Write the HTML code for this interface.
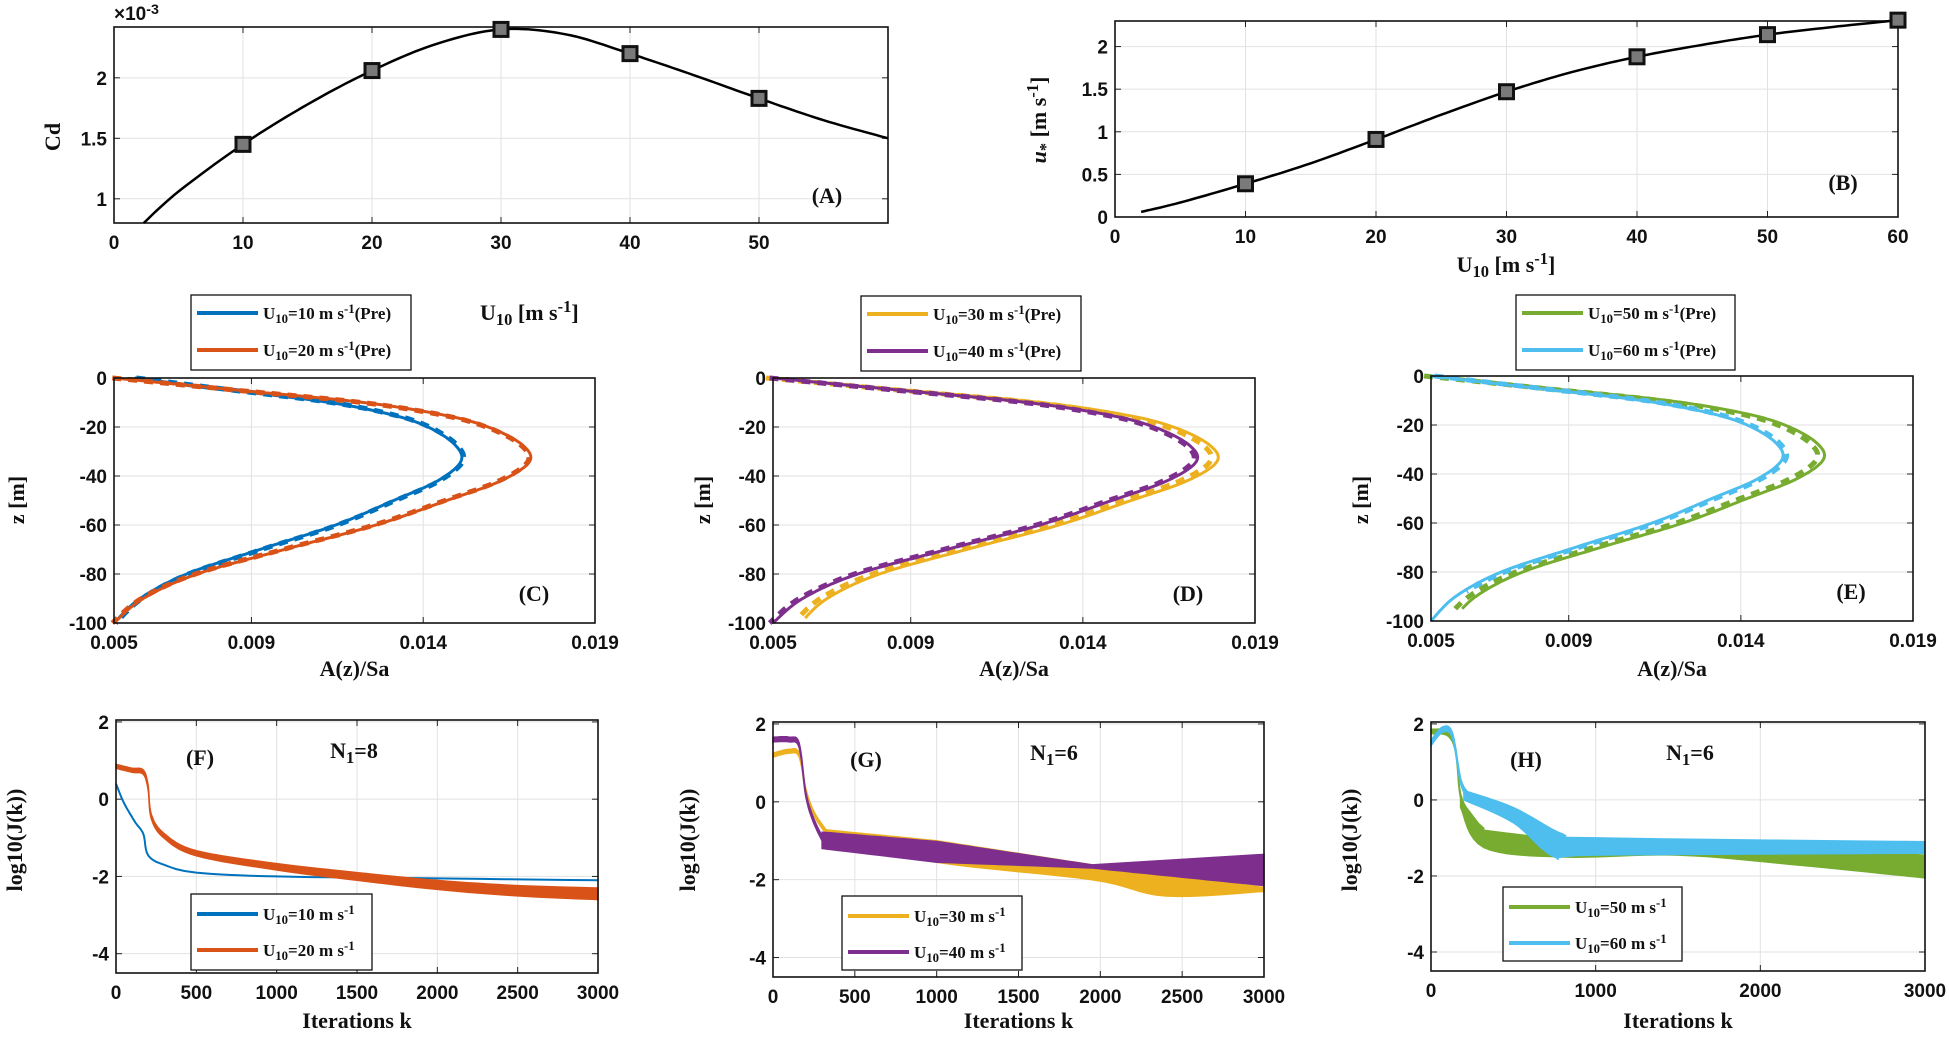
<!DOCTYPE html>
<html><head><meta charset="utf-8">
<style>
html,body{margin:0;padding:0;background:#fff;}
svg{display:block;}
.tk{font-family:"Liberation Sans Narrow","Liberation Sans",sans-serif;font-weight:bold;font-size:19px;fill:#111;}
.lb{font-family:"Liberation Serif",serif;font-weight:bold;font-size:22px;fill:#111;}
.lg{font-family:"Liberation Serif",serif;font-weight:bold;font-size:17px;fill:#111;}
</style></head>
<body>
<svg id="s" xmlns="http://www.w3.org/2000/svg" width="1949" height="1037" viewBox="0 0 1949 1037"></svg>
<script>
const S=document.getElementById('s');const NS='http://www.w3.org/2000/svg';
function el(t,a,p){const e=document.createElementNS(NS,t);for(const k in a)e.setAttribute(k,a[k]);(p||S).appendChild(e);return e;}
function txt(x,y,s,cls,anchor,rot){const a={x:x,y:y,class:cls,'text-anchor':anchor||'start'};if(rot)a.transform=`rotate(-90 ${x} ${y})`;const e=el('text',a);e.textContent=s;return e;}
function rich(x,y,parts,cls,anchor,rot){const a={x:x,y:y,class:cls,'text-anchor':anchor||'start'};if(rot)a.transform=`rotate(-90 ${x} ${y})`;const e=el('text',a);
 parts.forEach(p=>{const t=el('tspan',{},e);if(p[1]=='sub'){t.setAttribute('baseline-shift','-30%');t.setAttribute('font-size','75%');}if(p[1]=='sup'){t.setAttribute('baseline-shift','45%');t.setAttribute('font-size','75%');}if(p[1]=='it'){t.setAttribute('font-style','italic');}t.textContent=p[0];});return e;}
function panel(P){
 P.mx=v=>P.x0+(v-P.xl[0])/(P.xl[1]-P.xl[0])*(P.x1-P.x0);
 P.my=v=>P.y1-(v-P.yl[0])/(P.yl[1]-P.yl[0])*(P.y1-P.y0);
 P.xt.forEach(v=>{const x=P.mx(v);el('line',{x1:x,y1:P.y0,x2:x,y2:P.y1,stroke:'#e2e2e2','stroke-width':1});});
 P.yt.forEach(v=>{const y=P.my(v);el('line',{x1:P.x0,y1:y,x2:P.x1,y2:y,stroke:'#e2e2e2','stroke-width':1});});
 P.xt.forEach((v,i)=>{const x=P.mx(v);el('line',{x1:x,y1:P.y1,x2:x,y2:P.y1-6,stroke:'#222'});el('line',{x1:x,y1:P.y0,x2:x,y2:P.y0+6,stroke:'#222'});
  if(!P.xs||P.xs[i]!==null)txt(x,P.y1+26,P.xs?P.xs[i]:String(v),'tk','middle');});
 P.yt.forEach((v,i)=>{const y=P.my(v);el('line',{x1:P.x0,y1:y,x2:P.x0+6,y2:y,stroke:'#222'});el('line',{x1:P.x1,y1:y,x2:P.x1-6,y2:y,stroke:'#222'});
  txt(P.x0-7,y+7,P.ys?P.ys[i]:String(v),'tk','end');});
 return P;}
function box(P){el('rect',{x:P.x0,y:P.y0,width:P.x1-P.x0,height:P.y1-P.y0,fill:'none',stroke:'#111','stroke-width':1.6});}
function cr(pts,n){const out=[];for(let i=0;i<pts.length-1;i++){const p0=pts[Math.max(0,i-1)],p1=pts[i],p2=pts[i+1],p3=pts[Math.min(pts.length-1,i+2)];
 for(let t=0;t<n;t++){const s=t/n,s2=s*s,s3=s2*s;const f=(a,b,c,d)=>0.5*((2*b)+(-a+c)*s+(2*a-5*b+4*c-d)*s2+(-a+3*b-3*c+d)*s3);out.push([f(p0[0],p1[0],p2[0],p3[0]),f(p0[1],p1[1],p2[1],p3[1])]);}}
 out.push(pts[pts.length-1]);return out;}
function path(P,pts,att){const d=pts.map((p,i)=>(i?'L':'M')+P.mx(p[0]).toFixed(1)+' '+P.my(p[1]).toFixed(1)).join('');const a=Object.assign({d:d,fill:'none'},att);return el('path',a);}
function band(P,up,lo,col){const pts=up.concat(lo.slice().reverse());el('polygon',{points:pts.map(p=>P.mx(p[0]).toFixed(1)+','+P.my(p[1]).toFixed(1)).join(' '),fill:col,stroke:col,'stroke-width':1.5});}
function lin(pts,step){const o=[];for(let i=0;i<pts.length-1;i++){const[a,b]=pts[i],[c,d]=pts[i+1];const n=Math.max(1,Math.round((c-a)/step));for(let j=0;j<n;j++)o.push([a+(c-a)*j/n,b+(d-b)*j/n]);}o.push(pts[pts.length-1]);return o;}

// ---- A ----
let A=panel({x0:114,x1:888,y0:27,y1:223,xl:[0,60],yl:[0.8,2.42],xt:[0,10,20,30,40,50,60],xs:['0','10','20','30','40','50',null],yt:[1,1.5,2]});
box(A);
path(A,cr([[2.3,0.8],[5,1.06],[10,1.45],[15,1.78],[20,2.06],[25,2.28],[30,2.4],[35,2.36],[40,2.2],[45,2.02],[50,1.83],[55,1.65],[60,1.5]],12),{stroke:'#000','stroke-width':2.5});
[[10,1.45],[20,2.06],[30,2.4],[40,2.2],[50,1.83]].forEach(p=>el('rect',{x:A.mx(p[0])-7,y:A.my(p[1])-7,width:14,height:14,fill:'#7a7a7a',stroke:'#111','stroke-width':3}));
rich(114,20,[['×10','n'],['-3','sup']],'tk');
txt(60,137,'Cd','lb','middle',true);
txt(827,203,'(A)','lb','middle');
rich(480,320,[['U','n'],['10','sub'],[' [m s','n'],['-1','sup'],[']','n']],'lb','start');

// ---- B ----
let B=panel({x0:1115,x1:1898,y0:21,y1:217,xl:[0,60],yl:[0,2.3],xt:[0,10,20,30,40,50,60],yt:[0,0.5,1,1.5,2]});
box(B);
path(B,cr([[2,0.06],[5,0.17],[10,0.39],[15,0.63],[20,0.91],[25,1.2],[30,1.47],[35,1.7],[40,1.88],[45,2.02],[50,2.14],[55,2.23],[60,2.31]],12),{stroke:'#000','stroke-width':2.5});
[[10,0.39],[20,0.91],[30,1.47],[40,1.88],[50,2.14],[60,2.31]].forEach(p=>el('rect',{x:B.mx(p[0])-7,y:B.my(p[1])-7,width:14,height:14,fill:'#7a7a7a',stroke:'#111','stroke-width':3}));
rich(1506,272,[['U','n'],['10','sub'],[' [m s','n'],['-1','sup'],[']','n']],'lb','middle');
rich(1046,120,[['u','it'],['*','sub'],[' [m s','n'],['-1','sup'],[']','n']],'lb','middle',true);
txt(1843,190,'(B)','lb','middle');

// ---- profiles ----
const ST=[[0,0],[-5,0.3],[-10,0.6],[-15,0.79],[-20,0.9],[-27,0.98],[-34,1],[-42,0.93],[-50,0.8],[-60,0.63],[-70,0.41],[-80,0.2],[-90,0.07],[-100,0]];
const SM=cr(ST,10);
function sS(z){for(let i=0;i<SM.length-1;i++){const a=SM[i],b=SM[i+1];if(z<=a[0]&&z>=b[0]){const t=(z-a[0])/(b[0]-a[0]||1);return Math.max(0,a[1]+t*(b[1]-a[1]));}}return 0;}
function prof(peak,top,bot,zend){const o=[];for(let z=0;z>=zend;z-=0.5){const sh=sS(z);const base=top+(bot-top)*(-z/100);o.push([base+(peak-base)*sh,z]);}return o;}
function profPanel(x0,x1,y0,y1,lab,lx,ys,leg,series){
 const P=panel({x0:x0,x1:x1,y0:y0,y1:y1,xl:[0.005,0.019],yl:[-100,0],xt:[0.005,0.009,0.014,0.019],yt:[-100,-80,-60,-40,-20,0]});
 series.forEach(sr=>{path(P,sr.pts,{stroke:sr.c,'stroke-width':3});path(P,sr.dash,{stroke:sr.c,'stroke-width':5,'stroke-dasharray':'9 7'});});
 box(P);
 txt(lx,y1-22,lab,'lb','middle');
 txt(ys,500,'z [m]','lb','middle',true);
 txt((x0+x1)/2,676,'A(z)/Sa','lb','middle');
 el('rect',{x:leg[0],y:leg[1],width:leg[2]-leg[0],height:leg[3]-leg[1],fill:'#fff',stroke:'#111','stroke-width':1.3});
 series.forEach((sr,i)=>{const yy=leg[1]+(i?55:18);el('line',{x1:leg[0]+6,y1:yy,x2:leg[0]+67,y2:yy,stroke:sr.c,'stroke-width':4});
  rich(leg[0]+72,yy+6,[['U','n'],['10','sub'],['='+sr.n+' m s','n'],['-1','sup'],['(Pre)','n']],'lg');});
 return P;}
function off(pts,dx,dy){return pts.map(p=>[p[0]+dx,Math.min(0,p[1]+dy)]);}
let c1=prof(0.0151,0.0056,0.005,-100),c2=prof(0.0171,0.005,0.005,-100);
profPanel(114,595,378,623,'(C)',534,24,[191,295,411,370],[
 {c:'#0072BD',n:'10',pts:c1,dash:off(c1,0.00005,0)},
 {c:'#D95319',n:'20',pts:c2,dash:off(c2,-0.00005,0)}]);
let d1=prof(0.0179,0.005,0.0058,-98),d2=prof(0.0173,0.005,0.005,-100);
profPanel(773,1255,378,623,'(D)',1188,710,[861,296,1081,371],[
 {c:'#EDB120',n:'30',pts:d1,dash:off(d1,-0.0002,0)},
 {c:'#7E2F8E',n:'40',pts:d2,dash:off(d2,-0.0001,0)}]);
let e1=prof(0.0164,0.005,0.0056,-95),e2=prof(0.0152,0.005,0.005,-100);
profPanel(1431,1913,376,621,'(E)',1851,1368,[1516,295,1735,370],[
 {c:'#77AC30',n:'50',pts:e1,dash:off(e1,-0.0002,0)},
 {c:'#4DBEEE',n:'60',pts:e2,dash:off(e2.slice(0,177),0.0001,0)}]);

// ---- convergence ----
function convPanel(x0,x1,y0,y1,xt,ys,lab,lx,ntxt,nx,leg,names,draw){
 const P=panel({x0:x0,x1:x1,y0:y0,y1:y1,xl:[0,3000],yl:[-4.5,2.05],xt:xt,yt:[-4,-2,0,2]});
 draw(P);box(P);
 txt(lx,y0+45,lab,'lb','middle');
 rich(nx,y0+38,[['N','n'],['1','sub'],['=','n'],[ntxt,'n']],'lb','middle');
 txt(ys,840,'log10(J(k))','lb','middle',true);
 txt((x0+x1)/2,1028,'Iterations k','lb','middle');
 el('rect',{x:leg[0],y:leg[1],width:leg[2]-leg[0],height:leg[3]-leg[1],fill:'#fff',stroke:'#111','stroke-width':1.3});
 names.forEach((sr,i)=>{const yy=leg[1]+(i?56:20);el('line',{x1:leg[0]+6,y1:yy,x2:leg[0]+67,y2:yy,stroke:sr[0],'stroke-width':4});
  rich(leg[0]+72,yy+6,[['U','n'],['10','sub'],['='+sr[1]+' m s','n'],['-1','sup']],'lg');});
}
convPanel(116,598,720,973,[0,500,1000,1500,2000,2500,3000],22,'(F)',200,'8',354,[191,894,372,970],[['#0072BD','10'],['#D95319','20']],P=>{
 path(P,cr([[0,0.4],[50,-0.1],[120,-0.6],[170,-0.9],[200,-1.45],[300,-1.7],[500,-1.9],[1000,-2.0],[2000,-2.05],[3000,-2.1]],8),{stroke:'#0072BD','stroke-width':2});
 const o=cr([[0,0.85],[100,0.75],[170,0.7],[200,0.3],[220,-0.45],[300,-0.95],[500,-1.4],[1000,-1.75],[1500,-2.0],[2000,-2.22],[2500,-2.37],[3000,-2.45]],8);
 band(P,o.map(p=>[p[0],p[1]+0.05+p[0]/3000*0.1]),o.map(p=>[p[0],p[1]-0.05-p[0]/3000*0.1]),'#D95319');
});
convPanel(773,1264,722,977,[0,500,1000,1500,2000,2500,3000],695,'(G)',866,'6',1054,[842,896,1022,970],[['#EDB120','30'],['#7E2F8E','40']],P=>{
 const yh=cr([[0,1.2],[100,1.3],[160,1.2],[200,0.3],[250,-0.3],[320,-0.75]],6);
 band(P,yh.map(p=>[p[0],p[1]+0.05]),yh.map(p=>[p[0],p[1]-0.05]),'#EDB120');
 band(P,lin([[320,-0.72],[1000,-1.0],[1950,-1.62],[3000,-2.2]],50),cr([[320,-0.9],[1000,-1.55],[1950,-2.0],[2400,-2.42],[3000,-2.3]],8),'#EDB120');
 const ph=cr([[0,1.6],[100,1.6],[160,1.45],[200,0.2],[250,-0.5],[320,-1.1]],6);
 band(P,ph.map(p=>[p[0],p[1]+0.06]),ph.map(p=>[p[0],p[1]-0.06]),'#7E2F8E');
 band(P,lin([[300,-0.78],[1000,-1.02],[1950,-1.62],[3000,-1.35]],50),lin([[300,-1.2],[1000,-1.55],[1950,-1.7],[3000,-2.15]],50),'#7E2F8E');
});
convPanel(1431,1925,722,971,[0,1000,2000,3000],1357,'(H)',1526,'6',1690,[1503,887,1682,961],[['#77AC30','50'],['#4DBEEE','60']],P=>{
 const gh=cr([[0,1.8],[100,1.75],[150,1.3],[180,0.1],[250,-0.5],[320,-0.8]],6);
 band(P,gh.map(p=>[p[0],p[1]+0.06]),gh.map(p=>[p[0],p[1]-0.06]),'#77AC30');
 band(P,lin([[180,0],[320,-0.8],[700,-1.0],[1500,-1.2],[3000,-1.45]],50),cr([[180,-0.2],[320,-1.25],[800,-1.5],[1500,-1.45],[2200,-1.7],[3000,-2.05]],8),'#77AC30');
 const bh=cr([[0,1.5],[70,1.85],[130,1.7],[180,0.5],[220,0.15]],6);
 band(P,bh.map(p=>[p[0],p[1]+0.07]),bh.map(p=>[p[0],p[1]-0.07]),'#4DBEEE');
 band(P,cr([[200,0.25],[500,-0.2],[800,-0.9],[1000,-1.0],[3000,-1.1]],8),cr([[200,0],[500,-0.6],[750,-1.5],[1000,-1.45],[3000,-1.4]],8),'#4DBEEE');
});
</script>
</body></html>
